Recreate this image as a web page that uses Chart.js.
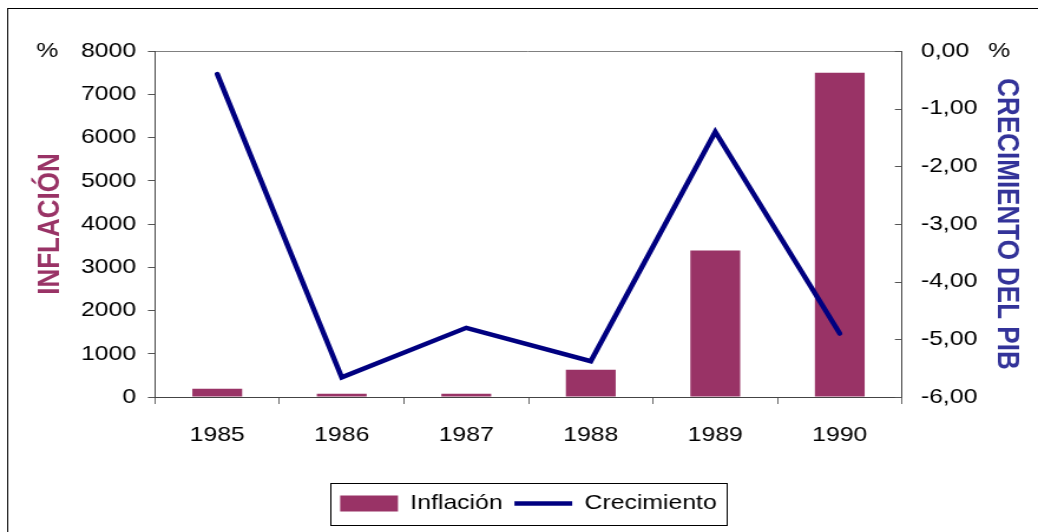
<!DOCTYPE html>
<html lang="es">
<head>
<meta charset="utf-8">
<title>Inflación y crecimiento del PIB</title>
<script src="https://cdn.jsdelivr.net/npm/chart.js@4.4.1/dist/chart.umd.min.js"></script>
<style>
  html, body { margin: 0; padding: 0; background: #fff; }
</style>
</head>
<body>
<!-- the original picture is stretched sideways, so the canvas is drawn narrower and widened by css -->
<canvas id="grafico" width="880" height="532" style="display:block;width:1038px;height:532px"></canvas>
<script>
// === DATOS ===
const anios = ["1985", "1986", "1987", "1988", "1989", "1990"];
const inflacion = [190, 75, 75, 630, 3390, 7500];
const crecimiento = [-0.40, -5.66, -4.80, -5.38, -1.40, -4.90];

const fuente = '"Liberation Sans", Arial, sans-serif';
const colorInflacion = "#993366";
const colorCrecimiento = "#000080";

// === PLUGIN: marco, simbolos % y caja de la leyenda ===
const extras = {
  id: "extras",
  beforeDraw(chart) {
    const c = chart.ctx;
    c.save();
    c.fillStyle = "#fff";
    c.fillRect(0, 0, chart.width, chart.height);
    c.strokeStyle = "#000";
    c.lineWidth = 1;
    c.strokeRect(6.5, 8.5, chart.width + 20, chart.height + 20);
    c.restore();
  },
  afterDraw(chart) {
    const c = chart.ctx;
    const area = chart.chartArea;
    c.save();
    c.font = "21px " + fuente;
    c.fillStyle = "#000";
    c.textAlign = "center";
    c.textBaseline = "middle";
    c.fillText("%", 40, area.top);
    c.fillText("%", 847, area.top);

    // marcas hacia dentro en el eje derecho
    const y1 = chart.scales.y1;
    c.strokeStyle = "#555";
    c.lineWidth = 1;
    y1.ticks.forEach((t, i) => {
      const py = Math.round(y1.getPixelForTick(i)) + 0.5;
      c.beginPath();
      c.moveTo(area.right - 6, py);
      c.lineTo(area.right, py);
      c.stroke();
    });

    // caja de la leyenda
    const cajas = chart.legend.legendHitBoxes;
    if (cajas && cajas.length) {
      const ultima = cajas[cajas.length - 1];
      const izq = Math.round(cajas[0].left - 8) + 0.5;
      const der = Math.round(ultima.left + ultima.width + 8) + 0.5;
      const centro = cajas[0].top + cajas[0].height / 2;
      const arriba = Math.round(centro - 21) + 0.5;
      c.strokeStyle = "#000";
      c.strokeRect(izq, arriba, der - izq, 42);
    }
    c.restore();
  }
};

// === GRAFICO ===
const ctx = document.getElementById("grafico").getContext("2d");
const grafico = new Chart(ctx, {
  type: "bar",
  data: {
    labels: anios,
    datasets: [
      {
        type: "bar",
        label: "Inflación",
        data: inflacion,
        backgroundColor: colorInflacion,
        borderWidth: 0,
        barPercentage: 0.4,
        categoryPercentage: 1,
        yAxisID: "y",
        order: 2
      },
      {
        type: "line",
        label: "Crecimiento",
        data: crecimiento,
        borderColor: colorCrecimiento,
        backgroundColor: colorCrecimiento,
        borderWidth: 4.5,
        borderCapStyle: "round",
        pointRadius: 0,
        tension: 0,
        yAxisID: "y1",
        order: 1
      }
    ]
  },
  options: {
    responsive: false,
    animation: false,
    devicePixelRatio: 1,
    layout: { padding: { left: 16, right: 0, top: 51, bottom: 8 } },
    font: { family: fuente },
    plugins: {
      tooltip: { enabled: false },
      legend: {
        position: "bottom",
        labels: {
          color: "#000",
          font: { size: 21, family: fuente },
          padding: 10,
          usePointStyle: true,
          pointStyleWidth: 49,
          boxHeight: 16,
          generateLabels(chart) {
            const items = Chart.defaults.plugins.legend.labels.generateLabels(chart);
            items.forEach(it => {
              const tipo = chart.data.datasets[it.datasetIndex].type;
              it.pointStyle = tipo === "line" ? "line" : "rect";
              if (tipo !== "line") it.lineWidth = 0;
            });
            return items.sort((a, b) => a.datasetIndex - b.datasetIndex);
          }
        }
      }
    },
    scales: {
      x: {
        grid: { offset: true, drawOnChartArea: false, tickLength: 7, color: "#666" },
        border: { color: "#444" },
        ticks: { color: "#000", font: { size: 21, family: fuente }, padding: 19, maxRotation: 0 },
        afterFit(scale) { scale.height = 86; }
      },
      y: {
        position: "left",
        min: 0,
        max: 8000,
        ticks: {
          stepSize: 1000,
          color: "#000",
          font: { size: 21, family: fuente },
          padding: 10,
          callback: v => String(v)
        },
        grid: { drawOnChartArea: false, tickLength: 6, color: "#555" },
        border: { color: "#444" },
        title: {
          display: true,
          text: "INFLACIÓN",
          color: colorInflacion,
          font: { size: 26, weight: "bold", family: fuente },
          padding: { top: 11, bottom: 0 }
        },
        afterFit(scale) { scale.width = 115.4; }
      },
      y1: {
        position: "right",
        min: -6,
        max: 0,
        ticks: {
          stepSize: 1,
          color: "#000",
          font: { size: 21, family: fuente },
          padding: 16,
          callback: v => v.toFixed(2).replace(".", ",")
        },
        grid: {
          drawTicks: false,
          color: c => (c.tick && c.tick.value === 0 ? "#808080" : "rgba(0,0,0,0)")
        },
        border: { color: "#444" },
        title: {
          display: true,
          text: "CRECIMIENTO DEL PIB",
          color: "#333399",
          font: { size: 26, weight: "bold", family: fuente },
          padding: { top: 11.4, bottom: 0 }
        },
        afterFit(scale) { scale.width = 115.3; }
      }
    }
  },
  plugins: [extras]
});
</script>
</body>
</html>
